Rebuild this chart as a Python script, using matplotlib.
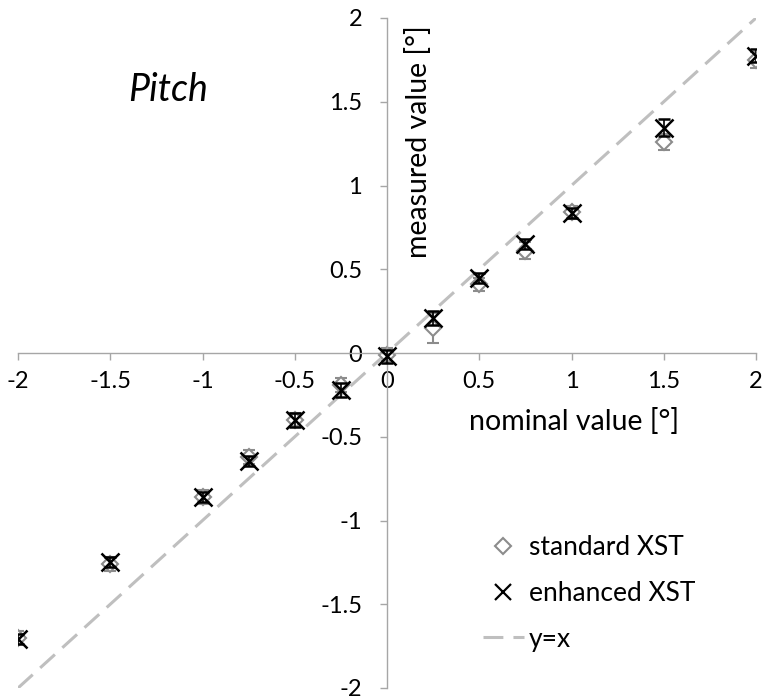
import matplotlib.pyplot as plt
from matplotlib.lines import Line2D

# nominal angles [deg]
nominal = [-2, -1.5, -1, -0.75, -0.5, -0.25, 0, 0.25, 0.5, 0.75, 1, 1.5, 2]

std_val = [-1.70, -1.26, -0.86, -0.62, -0.40, -0.19, -0.01, 0.15, 0.41, 0.61, 0.84, 1.26, 1.75]
std_err = [0.04, 0.04, 0.04, 0.04, 0.04, 0.04, 0.04, 0.09, 0.04, 0.05, 0.04, 0.05, 0.05]
enh_val = [-1.705, -1.25, -0.86, -0.645, -0.40, -0.22, -0.02, 0.21, 0.45, 0.65, 0.835, 1.345, 1.775]
enh_err = [0.03, 0.03, 0.03, 0.03, 0.04, 0.04, 0.04, 0.04, 0.03, 0.03, 0.03, 0.05, 0.04]

plt.rcParams['font.family'] = ['Lato', 'DejaVu Sans']

fig = plt.figure(figsize=(7.65, 7.0), dpi=100)
# axes box in pixels: x 18..756, y 18..688
ax = fig.add_axes([18 / 765, 12 / 700, 738 / 765, 670 / 700])

ax.set_xlim(-2, 2)
ax.set_ylim(-2, 2)

# y=x reference line
ax.plot([-2, 2], [-2, 2], color='#bfbfbf', lw=2.2, dashes=[6.5, 3.3], zorder=1)

ax.errorbar(nominal, std_val, yerr=std_err, fmt='D', ms=8.5, mfc='white', mec='#8c8c8c',
            mew=1.5, ecolor='#8c8c8c', elinewidth=1.5, capsize=4, capthick=1.5, zorder=2)
ax.errorbar(nominal, enh_val, yerr=enh_err, fmt='x', ms=13, mec='black', mew=1.8,
            ecolor='black', elinewidth=1.2, capsize=4, capthick=1.2, zorder=3)

# axes crossing at the origin
for side in ['top', 'right']:
    ax.spines[side].set_visible(False)
for side in ['left', 'bottom']:
    ax.spines[side].set_position(('data', 0))
    ax.spines[side].set_color('#a6a6a6')
    ax.spines[side].set_linewidth(1.0)

ticks = [-2, -1.5, -1, -0.5, 0, 0.5, 1, 1.5, 2]
ax.set_xticks(ticks)
ax.set_yticks(ticks)
ax.set_xticklabels([f'{t:g}' for t in ticks])
ax.set_yticklabels([f'{t:g}' for t in ticks])
ax.tick_params(axis='x', direction='out', length=5, width=1, color='#a6a6a6',
               labelsize=17, pad=8)
ax.tick_params(axis='y', direction='out', length=5, width=1, color='#a6a6a6',
               labelsize=17, pad=13)

ax.text(0.753, 0.398, 'nominal value [°]', transform=ax.transAxes, fontsize=20.5,
        ha='center', va='center')
ax.text(0.543, 0.816, 'measured value [°]', transform=ax.transAxes, fontsize=20.5,
        ha='center', va='center', rotation=90)
ax.text(0.203, 0.892, 'Pitch', transform=ax.transAxes, fontsize=27, style='italic',
        ha='center', va='center')

legend_handles = [
    Line2D([], [], ls='none', marker='D', ms=8, mfc='white', mec='#8c8c8c', mew=1.5),
    Line2D([], [], ls='none', marker='x', ms=12, mec='black', mew=1.6),
    Line2D([], [], color='#bfbfbf', lw=2.2, dashes=[6.5, 3.3]),
]
ax.legend(legend_handles, ['standard XST', 'enhanced XST', 'y=x'],
          loc='center left', bbox_to_anchor=(0.63, 0.141), frameon=False,
          fontsize=19, handlelength=1.55, handletextpad=0.2, labelspacing=0.78,
          borderpad=0, borderaxespad=0)

fig.savefig('out.png', dpi=100, facecolor='white')
